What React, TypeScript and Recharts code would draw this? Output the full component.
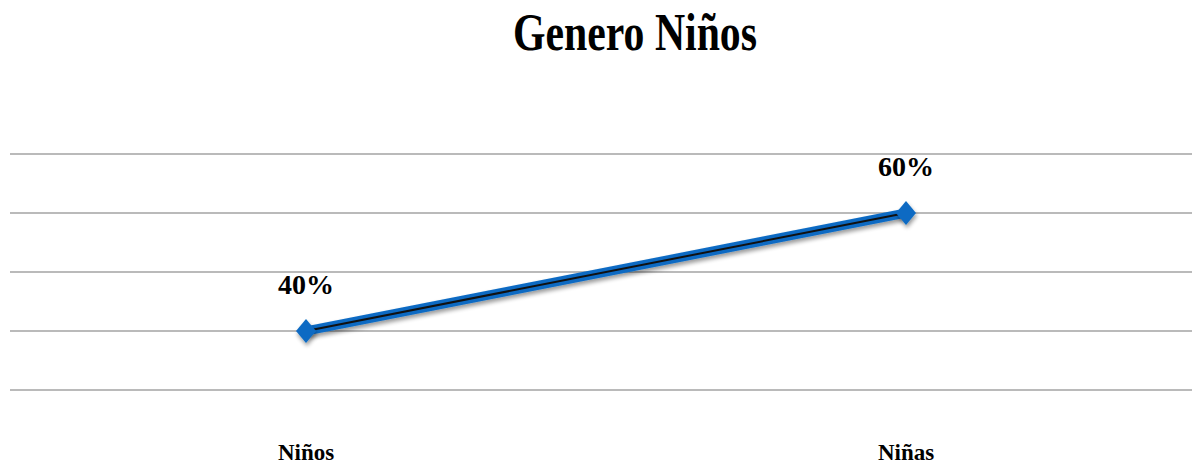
import { LineChart, Line, XAxis, YAxis, CartesianGrid, LabelList } from "recharts";

const categories = ["Niños", "Niñas"];
const percentages = [40, 60];
const yTicks = [30, 40, 50, 60, 70];

const data = categories.map((name, i) => ({ name, value: percentages[i] }));

const BLUE = "#0c6bc3";
const SERIF = '"Liberation Serif", "Times New Roman", serif';

// diamond marker, a bit taller than wide
const Diamond = (props: any) => {
  const { cx, cy } = props;
  if (cx == null || cy == null) return null;
  const w = 10;
  const h = 12;
  return (
    <path
      d={`M${cx},${cy - h} L${cx + w},${cy} L${cx},${cy + h} L${cx - w},${cy} Z`}
      fill={BLUE}
      filter="url(#dropShadow)"
    />
  );
};

const CategoryTick = (props: any) => {
  const { x, payload } = props;
  return (
    <text
      x={x}
      y={460}
      textAnchor="middle"
      fontFamily={SERIF}
      fontWeight="bold"
      fontSize={23}
      fill="#000"
    >
      {payload.value}
    </text>
  );
};

const ValueLabel = (props: any) => {
  const { x, y, value } = props;
  return (
    <text
      x={x}
      y={y - 37}
      textAnchor="middle"
      fontFamily={SERIF}
      fontWeight="bold"
      fontSize={28}
      fill="#000"
    >
      {`${value}%`}
    </text>
  );
};

export default function App() {
  return (
    <div
      style={{
        position: "absolute",
        left: 0,
        top: 0,
        width: 1192,
        height: 467,
        overflow: "hidden",
        background: "#fff",
      }}
    >
      <style>{`.line-body .recharts-line-curve { filter: url(#dropShadow); }`}</style>
      <svg width={0} height={0} style={{ position: "absolute" }}>
        <defs>
          <filter id="dropShadow" x="-20%" y="-50%" width="140%" height="200%">
            <feGaussianBlur in="SourceAlpha" stdDeviation="2" />
            <feOffset dx="1" dy="3" result="off" />
            <feComponentTransfer>
              <feFuncA type="linear" slope="0.4" />
            </feComponentTransfer>
            <feMerge>
              <feMergeNode />
              <feMergeNode in="SourceGraphic" />
            </feMerge>
          </filter>
        </defs>
      </svg>

      <svg
        width={1192}
        height={70}
        style={{ position: "absolute", left: 0, top: 0 }}
      >
        <text
          x={635}
          y={50}
          textAnchor="middle"
          fontFamily={SERIF}
          fontWeight="bold"
          fontSize={52}
          textLength={244}
          lengthAdjust="spacingAndGlyphs"
          fill="#000"
        >
          Genero Niños
        </text>
      </svg>

      <LineChart
        width={1192}
        height={467}
        data={data}
        margin={{ top: 154, right: 0, bottom: 0, left: 10 }}
      >
        <CartesianGrid vertical={false} stroke="#a3a3a3" strokeWidth={1.5} />
        <XAxis
          dataKey="name"
          height={77}
          axisLine={false}
          tickLine={false}
          tickSize={0}
          tickMargin={0}
          padding={{ left: 296, right: 286 }}
          tick={<CategoryTick />}
          interval={0}
        />
        <YAxis hide domain={[30, 70]} ticks={yTicks} />
        <Line
          className="line-body"
          dataKey="value"
          stroke={BLUE}
          strokeWidth={9}
          dot={false}
          activeDot={false}
          isAnimationActive={false}
        />
        <Line
          dataKey="value"
          stroke="#111"
          strokeWidth={2}
          dot={false}
          activeDot={false}
          isAnimationActive={false}
        />
        <Line
          dataKey="value"
          stroke="none"
          dot={<Diamond />}
          activeDot={false}
          isAnimationActive={false}
        >
          <LabelList dataKey="value" content={<ValueLabel />} />
        </Line>
      </LineChart>
    </div>
  );
}
